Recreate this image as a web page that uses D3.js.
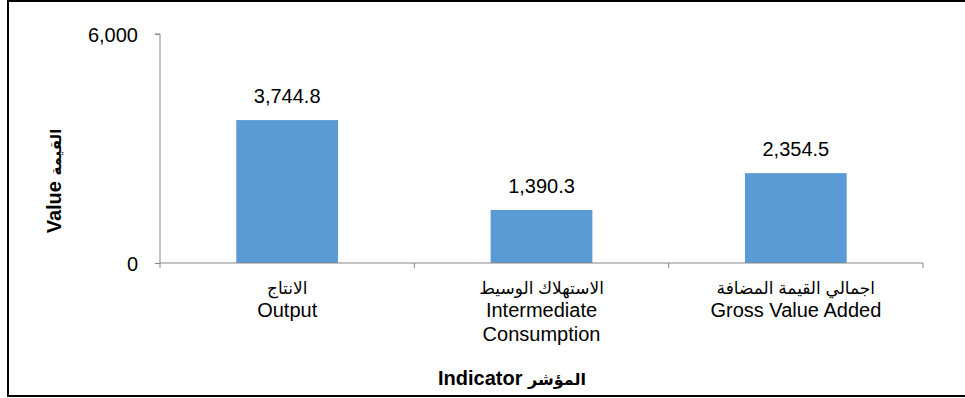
<!DOCTYPE html>
<html>
<head>
<meta charset="utf-8">
<script src="https://cdn.jsdelivr.net/npm/d3@7"></script>
<style>
  html, body { margin: 0; padding: 0; background: #fff; }
  svg { display: block; }
  text { font-family: "Liberation Sans", Arial, "DejaVu Sans", sans-serif; fill: #000; }
</style>
</head>
<body>
<svg id="chart" width="965" height="398"></svg>
<script>
// Indicator categories (Arabic line, then English lines)
const categoriesAr = ["الانتاج", "الاستهلاك الوسيط", "اجمالي القيمة المضافة"];
const categoriesEn = [["Output"], ["Intermediate", "Consumption"], ["Gross Value Added"]];
const categoryKeys = ["Output", "Intermediate Consumption", "Gross Value Added"];
const values = [3744.8, 1390.3, 2354.5];
const yTicks = [0, 6000];
const yTitleEn = "Value";
const yTitleAr = "القيمة";
const xTitleEn = "Indicator";
const xTitleAr = "المؤشر";

const svg = d3.select("#chart");

// outer frame
svg.append("rect")
  .attr("x", 8).attr("y", 1).attr("width", 962).attr("height", 395)
  .attr("fill", "none").attr("stroke", "#000").attr("stroke-width", 2);

const plot = { left: 160, right: 923, top: 34, bottom: 263 };

const x = d3.scaleBand()
  .domain(categoryKeys)
  .range([plot.left, plot.right])
  .paddingInner(0.6)
  .paddingOuter(0.3);

const y = d3.scaleLinear()
  .domain([0, 6000])
  .range([plot.bottom, plot.top]);

const fmt = d3.format(",.1f");
const axisColor = "#868686";

// bars
svg.append("g").selectAll("rect")
  .data(values)
  .join("rect")
  .attr("x", (d, i) => x(categoryKeys[i]))
  .attr("y", d => y(d))
  .attr("width", x.bandwidth())
  .attr("height", d => y(0) - y(d))
  .attr("fill", "#5B9BD5");

// value labels
svg.append("g").selectAll("text")
  .data(values)
  .join("text")
  .attr("x", (d, i) => x(categoryKeys[i]) + x.bandwidth() / 2)
  .attr("y", d => y(d) - 17)
  .attr("text-anchor", "middle")
  .attr("font-size", 20)
  .text(d => fmt(d));

// y axis
const yAxis = d3.axisLeft(y)
  .tickValues(yTicks)
  .tickSize(5)
  .tickPadding(17)
  .tickFormat(d3.format(","));
const gy = svg.append("g")
  .attr("transform", `translate(${plot.left},0)`)
  .call(yAxis);
gy.select(".domain").attr("stroke", axisColor).attr("d", `M-5,${plot.top}H0V${plot.bottom + 5}`);
gy.selectAll(".tick line").attr("stroke", axisColor);
gy.selectAll(".tick text").attr("font-size", 20).attr("font-family", null).attr("dy", "0.35em");

// x axis line with category separators
const gx = svg.append("g").attr("transform", `translate(0,${plot.bottom})`);
gx.append("line")
  .attr("x1", plot.left).attr("x2", plot.right)
  .attr("stroke", axisColor);
const sepPositions = categoryKeys.map(k => x(k) + x.bandwidth() / 2 + x.step() / 2);
gx.selectAll("line.sep")
  .data(sepPositions)
  .join("line")
  .attr("class", "sep")
  .attr("x1", d => d).attr("x2", d => d)
  .attr("y1", 0).attr("y2", 5)
  .attr("stroke", axisColor);

// category labels
const labels = svg.append("g").selectAll("text")
  .data(categoryKeys)
  .join("text")
  .attr("text-anchor", "middle")
  .attr("font-size", 20)
  .attr("transform", k => `translate(${x(k) + x.bandwidth() / 2},0)`);
labels.append("tspan")
  .attr("x", 0).attr("y", 294)
  .attr("font-size", 17)
  .text((k, i) => categoriesAr[i]);
labels.each(function(k, i) {
  d3.select(this).selectAll("tspan.en")
    .data(categoriesEn[i])
    .join("tspan")
    .attr("class", "en")
    .attr("x", 0)
    .attr("y", (d, j) => 317 + j * 24)
    .text(d => d);
});

// axis titles
const xt = svg.append("text")
  .attr("x", 512).attr("y", 385)
  .attr("text-anchor", "middle")
  .attr("font-size", 20)
  .attr("font-weight", "bold");
xt.append("tspan").text(xTitleEn + " ");
xt.append("tspan").attr("font-size", 16).text(xTitleAr);

const yt = svg.append("text")
  .attr("transform", "translate(61,181) rotate(-90)")
  .attr("text-anchor", "middle")
  .attr("font-size", 20)
  .attr("font-weight", "bold");
yt.append("tspan").text(yTitleEn + " ");
yt.append("tspan").attr("font-size", 15).text(yTitleAr);
</script>
</body>
</html>
